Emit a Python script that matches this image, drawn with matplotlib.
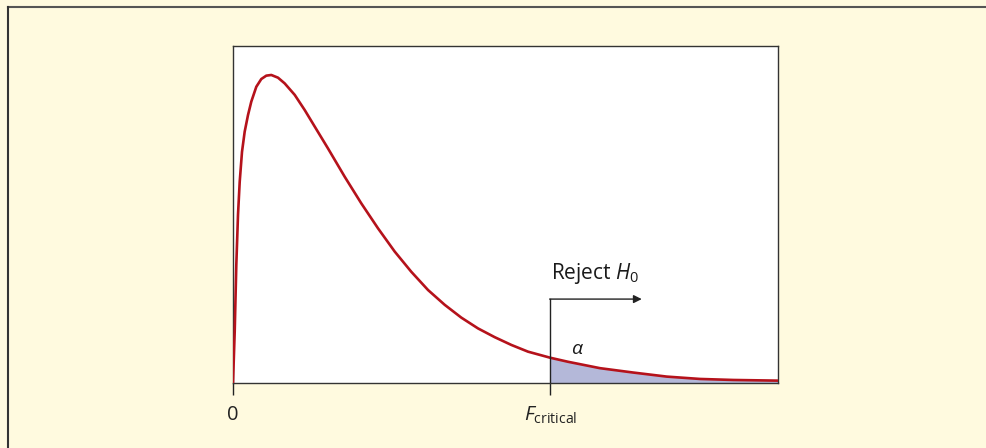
import matplotlib.pyplot as plt
from matplotlib.lines import Line2D

plt.rcParams['font.family'] = ['Open Sans', 'DejaVu Sans']
plt.rcParams['mathtext.fontset'] = 'custom'
plt.rcParams['mathtext.rm'] = 'Open Sans'
plt.rcParams['mathtext.it'] = 'Open Sans:italic'

# F-distribution density (x in F units, y relative height)
f_x = [0.0, 0.0156, 0.0303, 0.0459, 0.0615, 0.0826, 0.1073, 0.1376, 0.1679, 0.2138,
       0.2596, 0.3055, 0.3514, 0.4128, 0.4743, 0.5661, 0.6578, 0.7495, 0.8716, 1.0248,
       1.1771, 1.3303, 1.4835, 1.6358, 1.7890, 1.9422, 2.0945, 2.2477, 2.4009, 2.5532,
       2.7064, 2.91, 3.0734, 3.367, 3.6725, 3.9789, 4.2844, 4.5899, 5.0]
f_y = [0.0, 0.152, 0.350, 0.499, 0.597, 0.686, 0.746, 0.795, 0.835, 0.879,
       0.902, 0.912, 0.914, 0.906, 0.889, 0.855, 0.810, 0.761, 0.696, 0.612,
       0.533, 0.459, 0.390, 0.330, 0.276, 0.232, 0.194, 0.162, 0.136, 0.113,
       0.093, 0.075, 0.063, 0.044, 0.031, 0.019, 0.012, 0.009, 0.007]
f_critical = 2.91
arrow_end = 3.75
arrow_y = 0.249
tick_pos = [0, f_critical]
tick_labels = ['0', r'$F_{\mathrm{critical}}$']

bg = '#fffadf'
fig = plt.figure(figsize=(9.87, 4.48), dpi=100)
fig.patch.set_facecolor(bg)

# outer frame (top and left edges only)
fig.add_artist(Line2D([8 / 987, 1], [1 - 7 / 448, 1 - 7 / 448], transform=fig.transFigure,
                      color='#555555', lw=1.5))
fig.add_artist(Line2D([8 / 987, 8 / 987], [0, 1 - 7 / 448], transform=fig.transFigure,
                      color='#333333', lw=1.5))

ax = fig.add_axes([233 / 987, 1 - 383 / 448, 545 / 987, 337 / 448])
ax.set_facecolor('white')

# shaded rejection region
sx = [x for x in f_x if x >= f_critical]
sy = [y for x, y in zip(f_x, f_y) if x >= f_critical]
ax.fill_between(sx, 0, sy, color='#b4b8d9', lw=0)

ax.plot(f_x, f_y, color='#b5121b', lw=1.9, solid_joinstyle='round', zorder=3)

# critical value line and arrow
ax.plot([f_critical, f_critical], [0, arrow_y], color='#222222', lw=1.0, zorder=4)
ax.annotate('', xy=(arrow_end, arrow_y), xytext=(f_critical - 0.005, arrow_y),
            arrowprops=dict(arrowstyle='-|>', color='#222222', lw=1.0,
                            mutation_scale=12, shrinkA=0, shrinkB=0))
ax.text(f_critical + 0.01, arrow_y + 0.04, r'Reject $H_0$', fontsize=15,
        ha='left', va='bottom', color='#1a1a1a')
ax.text(3.16, 0.10, r'$\alpha$', fontsize=14, ha='center', va='center', color='#1a1a1a')

ax.set_xlim(0, 5)
ax.set_ylim(0, 1)
ax.set_xticks(tick_pos)
ax.set_xticklabels(tick_labels, fontsize=14.5, color='#1a1a1a')
ax.set_yticks([])
ax.tick_params(axis='x', direction='out', length=8.5, width=1.0, pad=7, colors='#222222')
for s in ax.spines.values():
    s.set_color('#333333')
    s.set_linewidth(1.0)

fig.savefig('out.png', dpi=100, facecolor=bg)
